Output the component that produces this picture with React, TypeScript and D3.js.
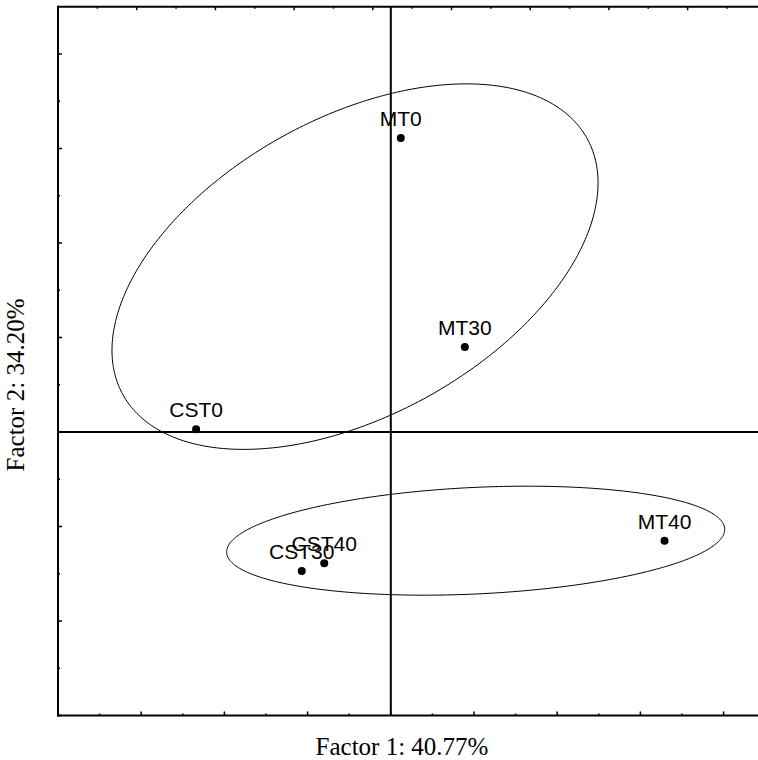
import React from 'react';
import * as d3 from 'd3';

// sample scores on the two factors
const names = ['MT0', 'MT30', 'CST0', 'MT40', 'CST30', 'CST40'];
const factor1 = [0.12, 0.89, -2.34, 3.29, -1.07, -0.8];
const factor2 = [3.11, 0.9, 0.03, -1.15, -1.47, -1.39];

// group ellipses: centre and two conjugate half axes, in factor units
const ellipseCenter = [[-0.43, 1.75], [1.02, -1.15]];
const ellipseU = [[2.79, 1.355], [2.993, 0.125]];
const ellipseV = [[0.865, -1.38], [0.03, -0.563]];

const xTitle = 'Factor 1: 40.77%';
const yTitle = 'Factor 2: 34.20%';

const W = 758;
const H = 760;

export default function App() {
  const left = 58;
  const top = 6.75;
  const bottom = 715.5;
  const unitX = 83.2;

  const x = d3.scaleLinear().domain([-4, 5]).range([left, left + 9 * unitX]);
  const y = d3.scaleLinear().domain([-3, 4.5]).range([bottom, top]);
  // upper axis (loadings scale) has its own spacing
  const xTop = d3.scaleLinear().domain([-1, 1]).range([left, left + 10 * 78.7]);

  const xMajor = d3.range(-4, 5.01, 1);
  const xMinor = d3.range(-3.5, 5, 1);
  const yMajor = d3.range(-3, 4.51, 1);
  const yMinor = d3.range(-2.5, 4.5, 1);
  const topMajor = d3.range(-1, 1.001, 0.2);
  const topMinor = d3.range(-0.9, 1, 0.2);

  const line = d3.line<number[]>().x(d => x(d[0])).y(d => y(d[1])).curve(d3.curveLinearClosed);
  const ts = d3.range(0, Math.PI * 2, Math.PI / 180);
  const ellipses = ellipseCenter.map((c, i) =>
    line(ts.map(t => [
      c[0] + ellipseU[i][0] * Math.cos(t) + ellipseV[i][0] * Math.sin(t),
      c[1] + ellipseU[i][1] * Math.cos(t) + ellipseV[i][1] * Math.sin(t),
    ]))
  );

  const labelFont = '"Liberation Sans", Arial, sans-serif';
  const titleFont = '"Liberation Serif", "Times New Roman", serif';

  return (
    <svg width={W} height={H} style={{ position: 'absolute', left: 0, top: 0, background: '#fff' }}>
      {/* ellipses */}
      {ellipses.map((d, i) => (
        <path key={'e' + i} d={d || ''} fill="none" stroke="#000" strokeWidth={1} />
      ))}

      {/* zero lines */}
      <line x1={x(0)} x2={x(0)} y1={top} y2={bottom} stroke="#000" strokeWidth={2} />
      <line x1={left} x2={W} y1={y(0)} y2={y(0)} stroke="#000" strokeWidth={2} />

      {/* frame */}
      <line x1={left} x2={left} y1={top - 1} y2={bottom + 1} stroke="#000" strokeWidth={2} />
      <line x1={left - 1} x2={W} y1={top} y2={top} stroke="#000" strokeWidth={2} />
      <line x1={left - 1} x2={W} y1={bottom} y2={bottom} stroke="#000" strokeWidth={2} />

      {/* ticks */}
      {xMajor.map(v => (
        <line key={'xM' + v} x1={x(v)} x2={x(v)} y1={bottom} y2={bottom - 4} stroke="#000" strokeWidth={1.5} />
      ))}
      {xMinor.map(v => (
        <line key={'xm' + v} x1={x(v)} x2={x(v)} y1={bottom} y2={bottom - 2} stroke="#000" strokeWidth={1.5} />
      ))}
      {yMajor.map(v => (
        <line key={'yM' + v} x1={left} x2={left + 4} y1={y(v)} y2={y(v)} stroke="#000" strokeWidth={1.5} />
      ))}
      {yMinor.map(v => (
        <line key={'ym' + v} x1={left} x2={left + 2} y1={y(v)} y2={y(v)} stroke="#000" strokeWidth={1.5} />
      ))}
      {topMajor.map(v => (
        <line key={'tM' + v} x1={xTop(v)} x2={xTop(v)} y1={top} y2={top + 3.5} stroke="#000" strokeWidth={1.5} />
      ))}
      {topMinor.map(v => (
        <line key={'tm' + v} x1={xTop(v)} x2={xTop(v)} y1={top} y2={top + 2} stroke="#000" strokeWidth={1.5} />
      ))}

      {/* points */}
      {names.map((n, i) => (
        <g key={n}>
          <circle cx={x(factor1[i])} cy={y(factor2[i])} r={4} fill="#000" />
          <text x={x(factor1[i])} y={y(factor2[i]) - 12} textAnchor="middle"
            fontFamily={labelFont} fontSize={21} fill="#000">{n}</text>
        </g>
      ))}

      {/* axis titles */}
      <text x={402} y={755} textAnchor="middle" fontFamily={titleFont} fontSize={25} fill="#000">{xTitle}</text>
      <text transform={`translate(24,385) rotate(-90)`} textAnchor="middle" fontFamily={titleFont}
        fontSize={25} fill="#000">{yTitle}</text>
    </svg>
  );
}
